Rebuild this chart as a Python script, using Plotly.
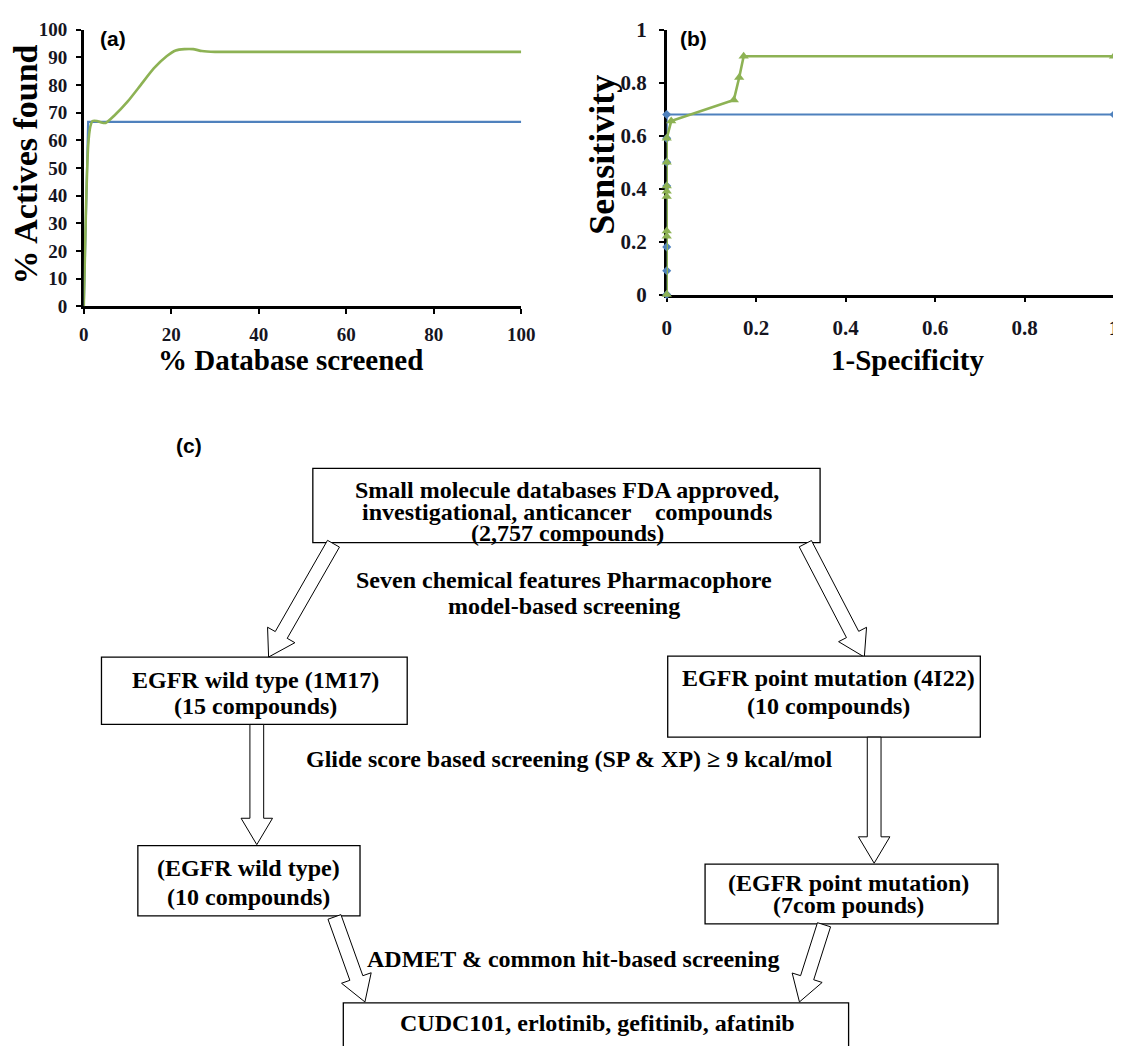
import plotly.graph_objects as go
import math

W, H = 1121, 1046

# ---------------- data ----------------
# (a) enrichment curves
a_blue_x = [0, 1, 100]
a_blue_y = [0, 66.7, 66.7]
a_green_x = [0, 0.5, 1, 1.5, 2, 3, 4, 5, 7, 10, 13, 16, 19, 21, 23, 25, 27, 30, 100]
a_green_y = [0, 35, 58, 65, 67, 67, 66.5, 66.3, 69, 74, 80, 86, 90.5, 92.5, 93, 93, 92.3, 92, 92]
a_xticks = [0, 20, 40, 60, 80, 100]
a_yticks = [0, 10, 20, 30, 40, 50, 60, 70, 80, 90, 100]

# (b) ROC curves
b_blue_x = [0, 0, 0, 0, 0, 0, 0, 1]
b_blue_y = [0, 0.09, 0.18, 0.41, 0.5, 0.59, 0.68, 0.68]
b_green_x = [0, 0, 0, 0, 0, 0, 0, 0, 0.01, 0.15, 0.162, 0.172, 1]
b_green_y = [0, 0.22, 0.24, 0.37, 0.39, 0.41, 0.5, 0.59, 0.655, 0.735, 0.82, 0.9, 0.9]
b_xticks = [0, 0.2, 0.4, 0.6, 0.8, 1]
b_xticklabels = ["0", "0.2", "0.4", "0.6", "0.8", "1"]
b_yticks = [0, 0.2, 0.4, 0.6, 0.8, 1]
b_yticklabels = ["0", "0.2", "0.4", "0.6", "0.8", "1"]

# (c) flowchart texts
top_box_text = ["Small molecule databases FDA approved,",
                "investigational, anticancer    compounds",
                "(2,757 compounds)"]
step1_text = ["Seven chemical features Pharmacophore", "model-based screening"]
left1_text = ["EGFR wild type (1M17)", "(15 compounds)"]
right1_text = ["EGFR point mutation (4I22)", "(10 compounds)"]
step2_text = ["Glide score based screening (SP & XP) \u2265 9 kcal/mol"]
left2_text = ["(EGFR wild type)", "(10 compounds)"]
right2_text = ["(EGFR point mutation)", "(7com pounds)"]
step3_text = ["ADMET & common hit-based screening"]
final_text = ["CUDC101, erlotinib, gefitinib, afatinib"]

BLUE = "#4f81bd"
GREEN = "#8db254"
SERIF = "Liberation Serif"
TICKC = "#15151f"


def PX(x):
    return x / W


def PY(y):
    return 1 - y / H


fig = go.Figure()

fig.add_trace(go.Scatter(x=a_blue_x, y=a_blue_y, mode="lines",
                         line=dict(color=BLUE, width=2.2),
                         xaxis="x", yaxis="y", cliponaxis=False, showlegend=False))
fig.add_trace(go.Scatter(x=a_green_x, y=a_green_y, mode="lines",
                         line=dict(color=GREEN, width=2.6, shape="spline", smoothing=0.5),
                         xaxis="x", yaxis="y", cliponaxis=False, showlegend=False))

fig.add_trace(go.Scatter(x=b_blue_x, y=b_blue_y, mode="lines+markers",
                         line=dict(color=BLUE, width=2),
                         marker=dict(symbol="diamond", size=7, color=BLUE),
                         xaxis="x2", yaxis="y2", cliponaxis=False, showlegend=False))
fig.add_trace(go.Scatter(x=b_green_x, y=b_green_y, mode="lines+markers",
                         line=dict(color=GREEN, width=2.6),
                         marker=dict(symbol="triangle-up", size=9, color=GREEN),
                         xaxis="x2", yaxis="y2", cliponaxis=False, showlegend=False))

axis_common = dict(showline=True, linecolor="black", linewidth=2.5,
                   ticks="outside", ticklen=5, tickwidth=2, tickcolor="black",
                   showgrid=False, zeroline=False, layer="below traces",
                   ticklabeloverflow="allow")
font_a = dict(family=SERIF, size=19, color=TICKC, weight="bold")
font_b = dict(family=SERIF, size=21, color=TICKC, weight="bold")

fig.update_layout(
    width=W, height=H,
    margin=dict(l=0, r=0, t=0, b=0),
    paper_bgcolor="white", plot_bgcolor="white",
    xaxis=dict(domain=[PX(72), PX(517)], range=[0, 100], tickvals=a_xticks,
               anchor="y", ticklabelstandoff=4, tickfont=font_a, **axis_common),
    yaxis=dict(domain=[PY(293), PY(10)], range=[0, 100], tickvals=a_yticks,
               anchor="x", ticklabelstandoff=5, tickfont=font_a, **axis_common),
    xaxis2=dict(domain=[PX(665), PX(1120)], range=[0, 1], tickvals=b_xticks,
                ticktext=b_xticklabels, anchor="y2", ticklabelstandoff=7,
                tickfont=font_b, **axis_common),
    yaxis2=dict(domain=[PY(281), PY(10)], range=[0, 1], tickvals=b_yticks,
                ticktext=b_yticklabels, anchor="x2", ticklabelstandoff=8,
                tickfont=font_b, **axis_common),
)

anns = []


def txt(x, y, s, size, family=SERIF, bold=True, angle=0, color="black"):
    anns.append(dict(x=PX(x), y=PY(y), xref="paper", yref="paper", text=s,
                     showarrow=False, xanchor="center", yanchor="middle", textangle=angle,
                     font=dict(family=family, size=size, color=color,
                               weight="bold" if bold else "normal")))


# panel labels and axis titles
txt(102, 19, "(a)", 21, family="Liberation Sans")
txt(692, 19, "(b)", 21, family="Liberation Sans")
txt(179, 435, "(c)", 21, family="Liberation Sans")
txt(13, 148, "% Actives found", 34, angle=-90)
txt(282, 348, "% Database screened", 29)
txt(599, 138, "Sensitivity", 36, angle=-90)
txt(910, 348, "1-Specificity", 29)

shapes = []


def box(x0, y0, x1, y1):
    shapes.append(dict(type="rect", xref="paper", yref="paper",
                       x0=PX(x0), x1=PX(x1), y0=PY(y1), y1=PY(y0),
                       line=dict(color="black", width=1.3), fillcolor="white", layer="below"))


def block_arrow(tail, tip, w=7, hw=16, hl=26):
    dx, dy = tip[0] - tail[0], tip[1] - tail[1]
    L = math.hypot(dx, dy)
    ux, uy = dx / L, dy / L
    nx, ny = -uy, ux
    neck = (tip[0] - ux * hl, tip[1] - uy * hl)
    pts = [
        (tail[0] + nx * w, tail[1] + ny * w),
        (neck[0] + nx * w, neck[1] + ny * w),
        (neck[0] + nx * hw, neck[1] + ny * hw),
        tip,
        (neck[0] - nx * hw, neck[1] - ny * hw),
        (neck[0] - nx * w, neck[1] - ny * w),
        (tail[0] - nx * w, tail[1] - ny * w),
    ]
    path = "M " + " L ".join(f"{PX(p[0]):.5f},{PY(p[1]):.5f}" for p in pts) + " Z"
    shapes.append(dict(type="path", xref="paper", yref="paper", path=path,
                       line=dict(color="black", width=1), fillcolor="white", layer="below"))


def lines(xc, ys, texts, size):
    for y, s in zip(ys, texts):
        txt(xc, y, s, size)


FS = 24
# top box
box(305, 459, 821, 535)
lines(564, [481, 504, 525], top_box_text, FS)
block_arrow((326, 536), (260, 652))
block_arrow((806, 536), (866, 652))
lines(560, [573, 600], step1_text, FS)

box(90, 652, 401, 721)
lines(247, [675, 702], left1_text, FS)
box(666, 651, 984, 734)
lines(830, [673, 702], right1_text, FS)

block_arrow((248, 721), (248, 844), w=7, hw=16, hl=27)
block_arrow((876, 734), (876, 863), w=7, hw=16, hl=27)
lines(566, [756], step2_text, FS)

box(127, 845, 353, 917)
lines(240, [868, 898], left2_text, FS)
box(704, 864, 1002, 925)
lines(850, [883, 906], right2_text, FS)

block_arrow((327, 918), (358, 1005))
block_arrow((825, 926), (800, 1005))
lines(570, [961], step3_text, FS)

box(336, 1006, 850, 1055)
lines(595, [1027], final_text, FS)

fig.update_layout(annotations=anns, shapes=shapes)

fig.write_html("out.html")
